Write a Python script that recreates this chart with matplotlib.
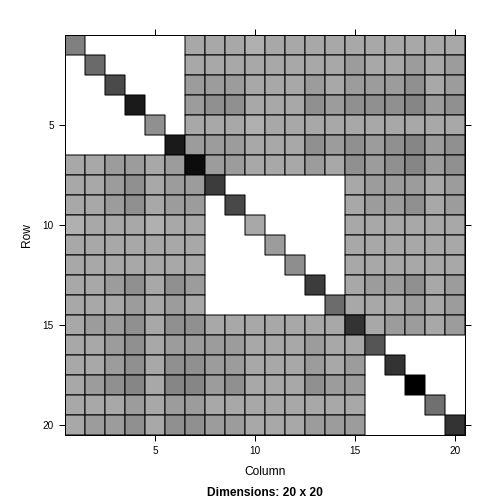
import numpy as np
import matplotlib.pyplot as plt

plt.rcParams['font.family'] = ['Liberation Sans', 'DejaVu Sans']

n = 20
tick_pos = [5, 10, 15, 20]

# grey level of the diagonal entries (0 = black, 255 = white)
diag_grey = [128, 106, 74, 26, 144, 26, 12, 60, 72, 168,
             156, 142, 60, 108, 51, 85, 51, 0, 112, 51]

# lower triangle, row by row ('.' = structural zero)
lower = [
    "",
    ".",
    "..",
    "...",
    "....",
    ".....",
    "bbccbc",
    "bbcdbcc",
    "bbcdbcc.",
    "abbbabb..",
    "bbbbbbb...",
    "bbbbbbb....",
    "bbcdbdc.....",
    "bbbcbcb......",
    "bccdbddbbbbbbb",
    "bbcdbccccbbbcbb",
    "bbcdbddccbbbcbc.",
    "bcdebeecdbbbdcc..",
    "bbbcbccbbbbbbbb...",
    "bccdbddccbbbccc....",
]
shade = {'a': 176, 'b': 168, 'c': 156, 'd': 144, 'e': 134}

M = np.full((n, n), np.nan)
for i, row in enumerate(lower):
    for j, ch in enumerate(row):
        if ch in shade:
            M[i, j] = shade[ch]
            M[j, i] = shade[ch]
    M[i, i] = diag_grey[i]

fig = plt.figure(figsize=(7, 7), dpi=72)
ax = fig.add_axes([65/504, 69/504, 400/504, 400/504])

edges = np.arange(0.5, n + 1)
ax.pcolor(edges, edges, np.ma.masked_invalid(M), cmap='gray', vmin=0, vmax=255,
          edgecolors='black', linewidth=1)

ax.set_xlim(0.5, n + 0.5)
ax.set_ylim(n + 0.5, 0.5)
ax.set_xticks(tick_pos)
ax.set_yticks(tick_pos)
ax.tick_params(direction='out', length=6, width=1, labelsize=10,
               top=True, right=True, pad=5)
for s in ax.spines.values():
    s.set_linewidth(1)

fig.text(265/504, 1 - 472/504, "Column", ha='center', va='center', fontsize=12)
fig.text(27/504, 1 - 235/504, "Row", ha='center', va='center', fontsize=12, rotation=90)
fig.text(265/504, 1 - 493/504, "Dimensions: 20 x 20", ha='center', va='center',
         fontsize=12, fontweight='bold')

plt.savefig("out.png", dpi=72)
